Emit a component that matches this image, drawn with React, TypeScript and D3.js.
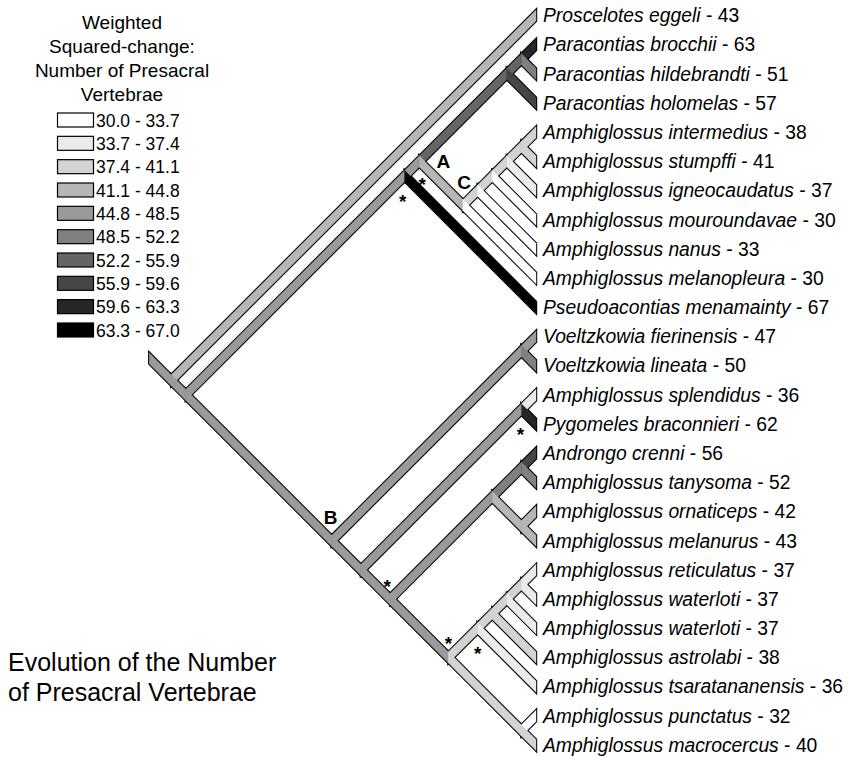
import { useMemo } from 'react';
import * as d3 from 'd3';

// terminal taxa, top to bottom
const taxa = [
  'Proscelotes eggeli',
  'Paracontias brocchii',
  'Paracontias hildebrandti',
  'Paracontias holomelas',
  'Amphiglossus intermedius',
  'Amphiglossus stumpffi',
  'Amphiglossus igneocaudatus',
  'Amphiglossus mouroundavae',
  'Amphiglossus nanus',
  'Amphiglossus melanopleura',
  'Pseudoacontias menamainty',
  'Voeltzkowia fierinensis',
  'Voeltzkowia lineata',
  'Amphiglossus splendidus',
  'Pygomeles braconnieri',
  'Androngo crenni',
  'Amphiglossus tanysoma',
  'Amphiglossus ornaticeps',
  'Amphiglossus melanurus',
  'Amphiglossus reticulatus',
  'Amphiglossus waterloti',
  'Amphiglossus waterloti',
  'Amphiglossus astrolabi',
  'Amphiglossus tsaratananensis',
  'Amphiglossus punctatus',
  'Amphiglossus macrocercus',
];

// number of presacral vertebrae per taxon
const vertebrae = [43, 63, 51, 57, 38, 41, 37, 30, 33, 30, 67, 47, 50, 36, 62, 56, 52, 42, 43, 37, 37, 37, 38, 36, 32, 40];

// topology, leaves are indices into taxa
const topology = [0, [[[[[1, 2], 3], [[[[[4, 5], 6], 7], 8], 9]], 10], [[11, 12], [[13, 14], [[[15, 16], [17, 18]], [[[[[19, 20], 21], 22], 23], [24, 25]]]]]]];

// reconstructed class of the branch leading to each clade (key = first-last leaf)
const cladeSpans = ['0-25', '1-25', '1-10', '1-9', '1-3', '1-2', '4-9', '4-8', '4-7', '4-6', '4-5', '11-25', '11-12', '13-25', '13-14', '15-25', '15-18', '15-16', '17-18', '19-25', '19-23', '19-22', '19-21', '19-20', '24-25'];
const cladeClasses = [4, 4, 4, 4, 6, 6, 3, 2, 2, 2, 2, 4, 4, 4, 4, 4, 4, 5, 3, 4, 2, 2, 2, 2, 2];

// legend
const legendBreaks = [30.0, 33.7, 37.4, 41.1, 44.8, 48.5, 52.2, 55.9, 59.6, 63.3, 67.0];
const legendColors = ['#ffffff', '#ebebeb', '#d3d3d3', '#b6b6b6', '#9a9a9a', '#808080', '#656565', '#464646', '#262626', '#000000'];
const legendTitle = ['Weighted', 'Squared-change:', 'Number of Presacral', 'Vertebrae'];
const chartTitle = ['Evolution of the Number', 'of Presacral Vertebrae'];

// node annotations (letters and asterisks), placed relative to their node
const annotations = [
  { span: '1-9', text: 'A', dx: 24, dy: 0 },
  { span: '4-9', text: 'C', dx: 1, dy: -23 },
  { span: '11-25', text: 'B', dx: -1, dy: -24 },
  { span: '1-10', text: '*', dx: -2, dy: 21 },
  { span: '1-9', text: '*', dx: 3, dy: 19 },
  { span: '13-14', text: '*', dx: -1, dy: 21 },
  { span: '15-25', text: '*', dx: -3, dy: -17 },
  { span: '19-25', text: '*', dx: 0, dy: -18 },
  { span: '19-23', text: '*', dx: 0, dy: 21 },
];

const W = 848;
const H = 757;
const TIP_X = 536;
const HALF = 5.6; // vertical half-height of a branch band
const STEM = 22;
const FONT = '"Liberation Sans", Arial, sans-serif';

type Branch = { key: string; d: string; fill: string };

export default function App() {
  const yScale = d3.scaleLinear().domain([0, taxa.length - 1]).range([15.5, 745]);
  const legendY = d3.scaleLinear().domain([0, legendColors.length - 1]).range([120, 330]);

  const { branches, nodePos } = useMemo(() => {
    const leafColor = d3.scaleThreshold<number, string>().domain(legendBreaks.slice(1, -1)).range(legendColors);
    const classOf = new Map(cladeSpans.map((s, i) => [s, cladeClasses[i]]));

    const root = d3.hierarchy<any>(topology, d => (Array.isArray(d) ? d : null));
    const pos = new Map<any, { x: number; y: number; span: string }>();
    const nodePos = new Map<string, { x: number; y: number }>();
    // slanted cladogram: each node sits where the 45° lines from its outer leaves meet
    root.each(node => {
      const idx = node.leaves().map(l => l.data as number);
      const lo = d3.min(idx)!;
      const hi = d3.max(idx)!;
      const y0 = yScale(lo);
      const y1 = yScale(hi);
      const p = { x: TIP_X - (y1 - y0) / 2, y: (y0 + y1) / 2, span: `${lo}-${hi}` };
      pos.set(node, p);
      if (node.children) nodePos.set(p.span, p);
    });

    const band = (a: { x: number; y: number }, b: { x: number; y: number }) =>
      `M${a.x},${a.y - HALF}L${b.x},${b.y - HALF}L${b.x},${b.y + HALF}L${a.x},${a.y + HALF}Z`;

    const branches: Branch[] = [];
    const rp = pos.get(root)!;
    branches.push({
      key: 'stem',
      d: band({ x: rp.x - STEM, y: rp.y - STEM }, rp),
      fill: legendColors[classOf.get(rp.span) ?? 4],
    });
    root.descendants().forEach(node => {
      if (!node.parent) return;
      const a = pos.get(node.parent)!;
      const b = pos.get(node)!;
      const fill = node.children
        ? legendColors[classOf.get(b.span) ?? 4]
        : leafColor(vertebrae[node.data as number]);
      branches.push({ key: b.span, d: band(a, b), fill });
    });
    return { branches, nodePos };
  }, []);

  return (
    <svg width={W} height={H} style={{ position: 'absolute', left: 0, top: 0, background: '#fff' }}>
      {/* legend */}
      <g fontFamily={FONT} fill="#000">
        {legendTitle.map((t, i) => (
          <text key={t} x={122} y={29 + i * 24} textAnchor="middle" fontSize={19}>{t}</text>
        ))}
        {legendColors.map((c, i) => (
          <g key={c}>
            <rect x={57.5} y={legendY(i) - 7} width={36} height={14} fill={c} stroke="#000" strokeWidth={1.2} />
            <text x={96} y={legendY(i) + 6.5} fontSize={17.5}>
              {`${legendBreaks[i].toFixed(1)} - ${legendBreaks[i + 1].toFixed(1)}`}
            </text>
          </g>
        ))}
      </g>

      {/* title */}
      <g fontFamily={FONT} fill="#000" fontSize={25}>
        {chartTitle.map((t, i) => (
          <text key={t} x={8} y={671 + i * 30}>{t}</text>
        ))}
      </g>

      {/* tree: outlines first, fills on top so joins stay clean */}
      <g>
        {branches.map(b => (
          <path key={'o' + b.key} d={b.d} fill="#000" stroke="#000" strokeWidth={2.4} strokeLinejoin="miter" />
        ))}
        {branches.map(b => (
          <path key={'f' + b.key} d={b.d} fill={b.fill} stroke={b.fill} strokeWidth={0.4} />
        ))}
      </g>

      {/* node annotations */}
      <g fontFamily={FONT} fontWeight="bold" fill="#000" textAnchor="middle">
        {annotations.map((a, i) => {
          const p = nodePos.get(a.span)!;
          const star = a.text === '*';
          return (
            <text key={i} x={p.x + a.dx} y={p.y + a.dy + (star ? 11 : 7)} fontSize={19}>
              {a.text}
            </text>
          );
        })}
      </g>

      {/* taxon labels */}
      <g fontFamily={FONT} fontSize={19.3} fill="#000">
        {taxa.map((t, i) => (
          <text key={i} x={TIP_X + 7} y={yScale(i) + 6.8}>
            <tspan fontStyle="italic">{t}</tspan>
            <tspan>{` - ${vertebrae[i]}`}</tspan>
          </text>
        ))}
      </g>
    </svg>
  );
}
